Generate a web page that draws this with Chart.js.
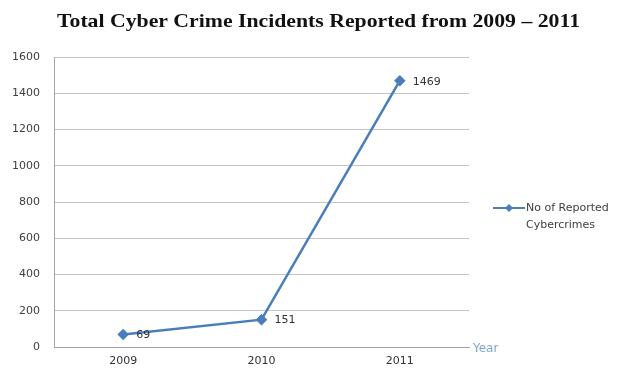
<!DOCTYPE html>
<html lang="en">
<head>
    <meta charset="UTF-8">
    <title>Total Cyber Crime Incidents Reported from 2009 – 2011</title>
    <script src="https://cdn.jsdelivr.net/npm/chart.js@4.4.1/dist/chart.umd.min.js"></script>
    <style>
        html, body { margin: 0; padding: 0; background: #ffffff; }
        #wrap { width: 622px; height: 372px; position: relative; }
    </style>
</head>
<body>
    <div id="wrap"><canvas id="canvas"></canvas></div>

    <script>
        // Data
        const years = ['2009', '2010', '2011'];
        const reportedCrimes = [69, 151, 1469];
        const yTicks = [0, 200, 400, 600, 800, 1000, 1200, 1400, 1600];

        const titleText = 'Total Cyber Crime Incidents Reported from 2009 \u2013 2011';
        const seriesName = ['No of Reported', 'Cybercrimes'];
        const xTitle = 'Year';

        const blue = '#4a7ebb';

        // Title, value labels, legend and axis caption drawn on top
        const extras = {
            id: 'extras',
            afterDraw(chart) {
                const ctx = chart.ctx;
                const area = chart.chartArea;
                ctx.save();

                // title (the source image is stretched wide, so stretch it too)
                ctx.font = 'bold 19px "Liberation Serif", "Times New Roman", serif';
                ctx.fillStyle = '#111111';
                ctx.textBaseline = 'middle';
                ctx.textAlign = 'left';
                const w = ctx.measureText(titleText).width;
                const sx = 523 / w;
                ctx.save();
                ctx.translate(57, 22);
                ctx.scale(sx, 1);
                ctx.fillText(titleText, 0, 0);
                ctx.restore();

                // value labels to the right of each point
                ctx.font = '11px "DejaVu Sans", sans-serif';
                ctx.fillStyle = '#333333';
                const meta = chart.getDatasetMeta(0);
                meta.data.forEach((pt, i) => {
                    ctx.fillText(String(reportedCrimes[i]), pt.x + 13, pt.y + 1);
                });

                // "Year" caption at the end of the x axis
                ctx.font = '12px "DejaVu Sans", sans-serif';
                ctx.fillStyle = '#7ea6d0';
                ctx.fillText(xTitle, area.right + 4, area.bottom + 2);

                // legend
                const lx = 493, ly = 208;
                ctx.strokeStyle = blue;
                ctx.lineWidth = 2;
                ctx.beginPath();
                ctx.moveTo(lx, ly);
                ctx.lineTo(lx + 32, ly);
                ctx.stroke();
                ctx.fillStyle = blue;
                ctx.beginPath();
                ctx.moveTo(lx + 16, ly - 4);
                ctx.lineTo(lx + 20, ly);
                ctx.lineTo(lx + 16, ly + 4);
                ctx.lineTo(lx + 12, ly);
                ctx.closePath();
                ctx.fill();
                ctx.font = '11px "DejaVu Sans", sans-serif';
                ctx.fillStyle = '#404040';
                ctx.fillText(seriesName[0], lx + 33, ly);
                ctx.fillText(seriesName[1], lx + 33, ly + 17);

                ctx.restore();
            }
        };

        new Chart(document.getElementById('canvas'), {
            type: 'line',
            data: {
                labels: years,
                datasets: [{
                    label: seriesName.join(' '),
                    data: reportedCrimes,
                    borderColor: blue,
                    backgroundColor: blue,
                    borderWidth: 2.5,
                    pointStyle: 'rectRot',
                    pointRadius: 4,
                    pointHoverRadius: 4,
                    tension: 0
                }]
            },
            options: {
                responsive: true,
                maintainAspectRatio: false,
                animation: false,
                layout: { padding: { left: 0, top: 57, right: 153, bottom: 0 } },
                plugins: {
                    legend: { display: false },
                    title: { display: false },
                    tooltip: { enabled: false }
                },
                scales: {
                    x: {
                        offset: true,
                        grid: { display: false, drawTicks: false },
                        border: { display: true, color: '#a6a6a6', width: 1 },
                        ticks: {
                            color: '#333333',
                            font: { family: '"DejaVu Sans", sans-serif', size: 11 },
                            padding: 8
                        },
                        afterFit(scale) { scale.height = 25; }
                    },
                    y: {
                        min: 0,
                        max: 1600,
                        afterBuildTicks(scale) {
                            scale.ticks = yTicks.map(v => ({ value: v }));
                        },
                        grid: { color: '#c4c4c4', lineWidth: 1, drawTicks: false },
                        border: { display: true, color: '#a6a6a6', width: 1 },
                        ticks: {
                            color: '#404040',
                            font: { family: '"DejaVu Sans", sans-serif', size: 11 },
                            padding: 14,
                            callback: (v) => String(v)
                        },
                        afterFit(scale) { scale.width = 54; }
                    }
                }
            },
            plugins: [extras]
        });
    </script>
</body>
</html>
